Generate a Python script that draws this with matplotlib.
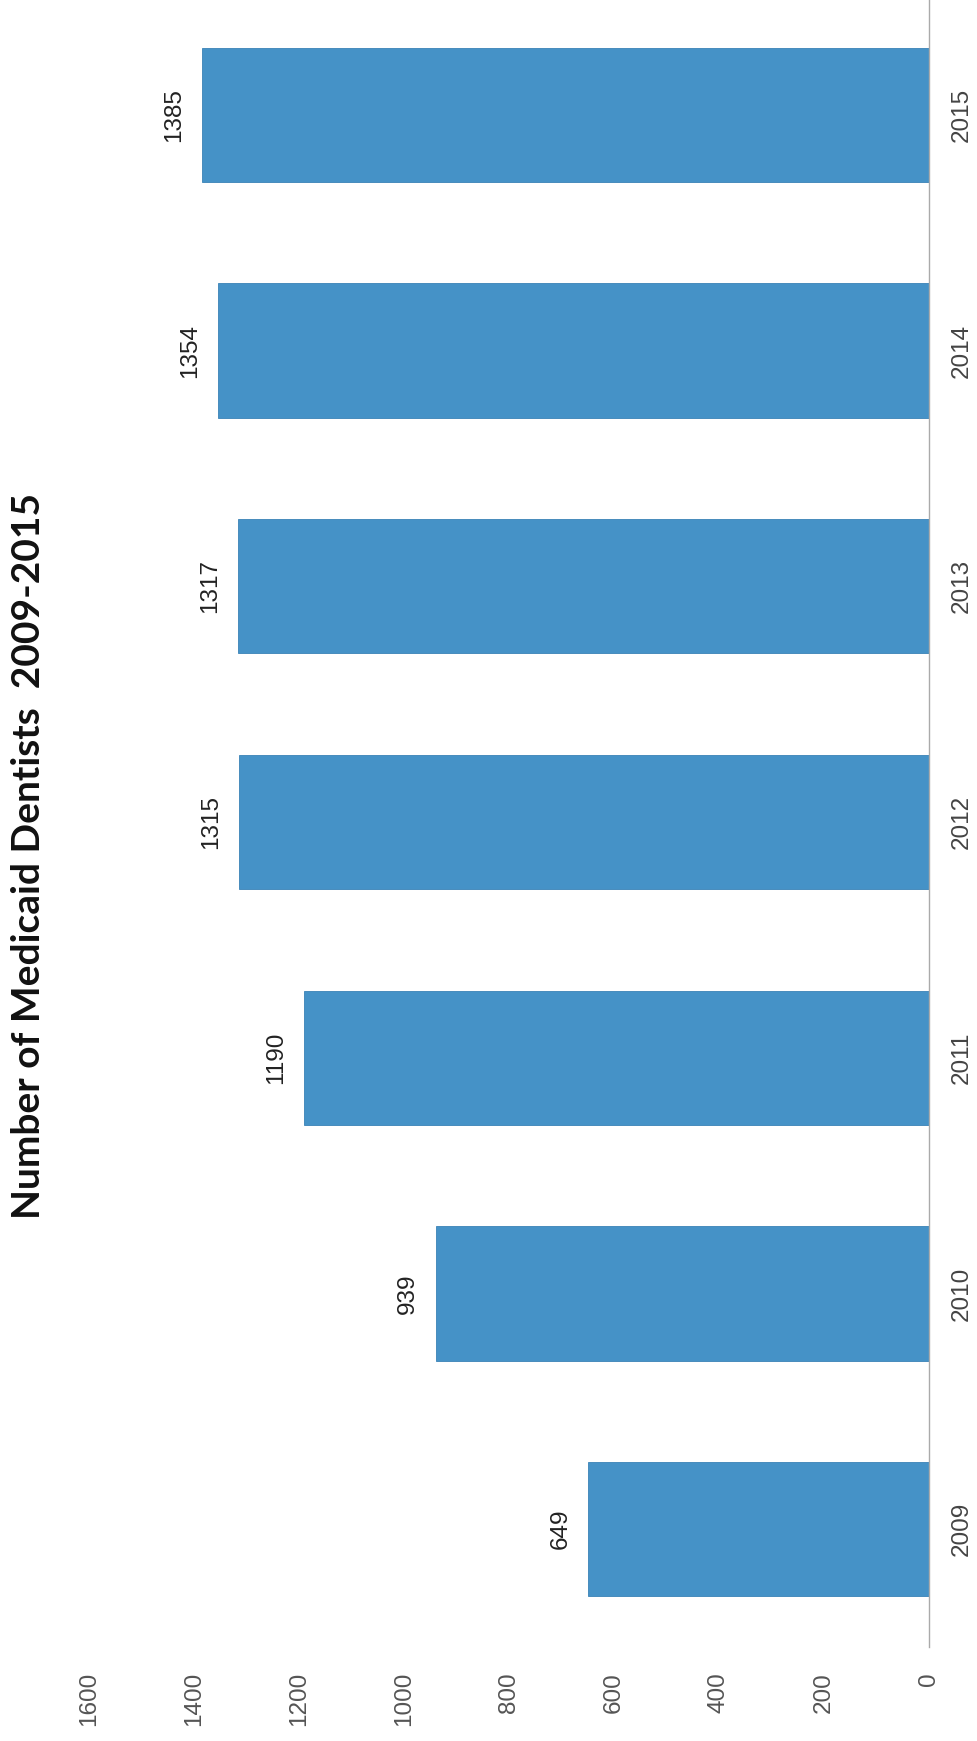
import matplotlib.pyplot as plt

years = ['2009', '2010', '2011', '2012', '2013', '2014', '2015']
dentists = [649, 939, 1190, 1315, 1317, 1354, 1385]
value_ticks = [0, 200, 400, 600, 800, 1000, 1200, 1400, 1600]
title = 'Number of Medicaid Dentists  2009-2015'

W, H = 978, 1741
fig = plt.figure(figsize=(W / 100, H / 100), dpi=100)
# the page is scanned sideways: bars grow to the left, years run upward
ax = fig.add_axes([89 / W, 1 - 1647 / H, (929 - 89) / W, 1650 / H])

pos = list(range(len(years)))
ax.barh(pos, dentists, height=0.57, color='#4592C7', edgecolor='#3A82B6', linewidth=0.6)
ax.set_xlim(1600, 0)
ax.set_ylim(-0.5, 6.5)

sans = ['Liberation Sans', 'DejaVu Sans']
ax.set_xticks(value_ticks)
ax.set_xticklabels([str(v) for v in value_ticks], rotation=90,
                   fontfamily=sans, fontsize=17.5, color='#555555')
ax.tick_params(axis='x', length=0, pad=18)

ax.yaxis.tick_right()
ax.set_yticks(pos)
ax.set_yticklabels(years, rotation=90, va='center',
                   fontfamily=sans, fontsize=17.5, color='#444444')
ax.tick_params(axis='y', length=0, pad=16)

for s in ['top', 'bottom', 'left']:
    ax.spines[s].set_visible(False)
ax.spines['right'].set_color('#AAAAAA')
ax.spines['right'].set_linewidth(1)

for p, v in zip(pos, dentists):
    ax.annotate(str(v), (v, p), xytext=(-12, 0), textcoords='offset points',
                ha='right', va='center', rotation=90,
                fontfamily=sans, fontsize=17.5, color='#222222')

fig.text(29 / W, 1 - 856 / H, title, rotation=90, ha='center', va='center',
         fontfamily=['Lato', 'DejaVu Sans'], fontweight='bold', fontsize=28, color='#111111')

fig.savefig('out.png', dpi=100)
